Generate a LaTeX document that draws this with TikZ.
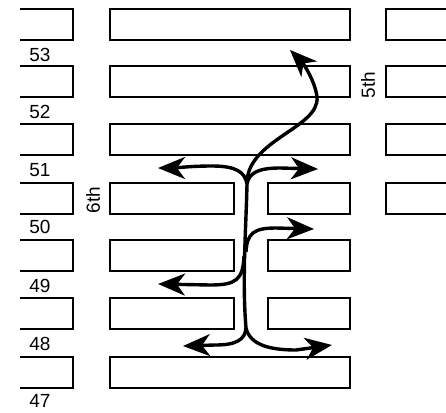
\documentclass[tikz,border=0pt]{standalone}
\usepackage{fontspec}
\setmainfont{Liberation Sans}
\usetikzlibrary{arrows.meta}
\begin{document}
\begin{tikzpicture}[x=1pt,y=-1pt,
  blk/.style={line width=1.6pt},
  arr/.style={line width=3.4pt, -{Stealth[length=27pt,width=22pt,inset=8pt]}},
  trunk/.style={line width=3.4pt},
  lbl/.style={font=\fontsize{19}{19}\selectfont, inner sep=0pt}]
\useasboundingbox (0,0) rectangle (446,412);
% left blocks (open at left edge)
\foreach \t in {9,66,124,183,240,298,357}
  \draw[blk] (20,\t) -- (73,\t) -- (73,\t+31) -- (20,\t+31);
% middle full blocks
\foreach \t in {9,66,124,357}
  \draw[blk] (110,\t) rectangle (350,\t+31);
% middle split blocks
\foreach \t in {183,240,298}{
  \draw[blk] (110,\t) rectangle (234,\t+31);
  \draw[blk] (268,\t) rectangle (350,\t+31);
}
% right blocks (open at right edge)
\foreach \t in {9,66,124,183}
  \draw[blk] (446,\t) -- (386,\t) -- (386,\t+31) -- (446,\t+31);
% street labels
\node[lbl] (s53) at (40,55) {53};
\node[lbl] (s52) at (40,112) {52};
\node[lbl] (s51) at (40,170) {51};
\node[lbl] (s50) at (40,227) {50};
\node[lbl] (s49) at (40,286) {49};
\node[lbl] (s48) at (40,344) {48};
\node[lbl] (s47) at (40,401) {47};
\node[lbl, rotate=90] (a5) at (368,85) {5th};
\node[lbl, rotate=90] (a6) at (93,200) {6th};
% branch points
\coordinate (top) at (247,184);
\coordinate (mid1) at (246,252);
\coordinate (mid2) at (244,256);
\coordinate (bot) at (246,328);
% trunk
\draw[trunk] (top) .. controls (246,230) and (242,280) .. (bot);
% arrows
\draw[arr] (top) .. controls (246,140) and (320,128) .. (317,97) .. controls (315,80) and (302,62) .. (290,50);
\draw[arr] (top) .. controls (245,172) and (236,166) .. (212,166) .. controls (190,166) and (175,168) .. (158,168);
\draw[arr] (top) .. controls (249,173) and (258,168) .. (280,168) -- (318,169);
\draw[arr] (mid1) .. controls (247,233) and (254,228) .. (276,228) -- (314,229);
\draw[arr] (mid2) .. controls (243,280) and (236,285) .. (210,285) -- (158,284);
\draw[arr] (bot) .. controls (245,340) and (236,345) .. (215,345) -- (183,346);
\draw[arr] (bot) .. controls (250,345) and (270,350) .. (296,350) -- (332,345);
\end{tikzpicture}
\end{document}
